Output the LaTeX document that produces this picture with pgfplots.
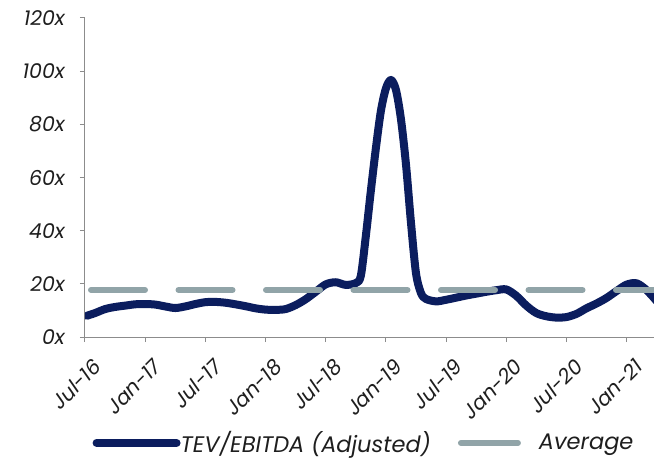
\documentclass[border=0pt]{standalone}
\usepackage{pgfplots}
\pgfplotsset{compat=1.18}
\usepackage{fontspec}
\setmainfont{Poppins}
\definecolor{navy}{HTML}{0B1D5E}
\definecolor{avg}{HTML}{91A4A8}
\definecolor{axgray}{HTML}{8C8C8C}
\definecolor{txt}{HTML}{1E1E1E}
\begin{document}
\begin{tikzpicture}
\path[use as bounding box] (-85bp,-125bp) rectangle (569bp,337bp);
\begin{axis}[
  scale only axis, width=569bp, height=319bp,
  xmin=0, xmax=56.73, ymin=0, ymax=120,
  axis x line*=bottom, axis y line*=left,
  axis line style={axgray, line width=1bp, -},
  clip=true,
  xtick={0,6,...,54},
  xticklabels={Jul-16,Jan-17,Jul-17,Jan-18,Jul-18,Jan-19,Jul-19,Jan-20,Jul-20,Jan-21},
  ytick={0,20,...,120},
  yticklabel={\pgfmathprintnumber{\tick}x},
  /pgf/number format/assume math mode=true,
  tick align=outside, major tick length=5bp,
  tick style={axgray, line width=1bp},
  ticklabel style={font=\fontsize{20.5bp}{23bp}\selectfont\itshape, text=txt},
  xticklabel style={xshift=7bp, yshift=-14bp, rotate=45, anchor=north east, inner sep=1bp},
  yticklabel style={inner sep=2bp, xshift=-13bp},
  legend style={at={(0.4886,-0.332)}, anchor=center, draw=none, fill=none,
    font=\fontsize{22.5bp}{25bp}\selectfont\itshape, text=txt,
    nodes={inner xsep=0bp},
    /tikz/every even column/.append style={column sep=24bp},
    /tikz/every odd column/.append style={column sep=0bp}},
  legend columns=2,
]
\addplot[navy, line width=8bp, smooth, tension=0.5, line cap=round, line join=round,
  legend image code/.code={\path (0bp,0bp) -- (80bp,0bp); \draw[navy, line width=8bp, line cap=round] (4bp,0bp) -- (71bp,0bp);}] coordinates {
(0.2,8.0) (1,9.0) (2,10.5) (3,11.3) (4,11.8) (5,12.3) (6,12.4) (7,12.2) (8,11.5) (9,10.9)
(10,11.5) (11,12.4) (12,13.1) (13,13.2) (14,12.9) (15,12.3) (16,11.6) (17,10.8) (18,10.3) (19,10.2)
(20,10.5) (21,12.0) (22,14.2) (23,17.0) (24,19.8) (25,20.6) (26,19.6) (27,20.3) (27.5,23)
(28,38) (28.5,55) (29,71) (29.5,85) (30,93.5) (30.5,96.7) (31,93) (31.5,82) (32,65) (32.5,43)
(33,24) (33.5,16.5) (34,14.3) (35,13.4) (36,14.0) (37,14.8) (38,15.6) (39,16.3) (40,17.0) (41,17.6)
(42,17.9) (43,15.5) (44,11.8) (45,9.0) (46,7.8) (47,7.3) (48,7.5) (49,8.7) (50,10.8) (51,12.6)
(52,14.7) (53,17.3) (54,19.7) (55,20.2) (56,17.6) (57,13.5)
};
\addlegendentry{TEV/EBITDA (Adjusted)}
\addplot[avg, line width=6bp, line cap=round, dash pattern=on 54bp off 33.5bp, dash phase=-3bp,
  legend image code/.code={\path (0bp,0bp) -- (78bp,0bp); \draw[avg, line width=6bp, line cap=round] (3bp,0bp) -- (61bp,0bp);}] coordinates {
(0.3,17.7) (57,17.7)
};
\addlegendentry{Average}
\end{axis}
\end{tikzpicture}
\end{document}
